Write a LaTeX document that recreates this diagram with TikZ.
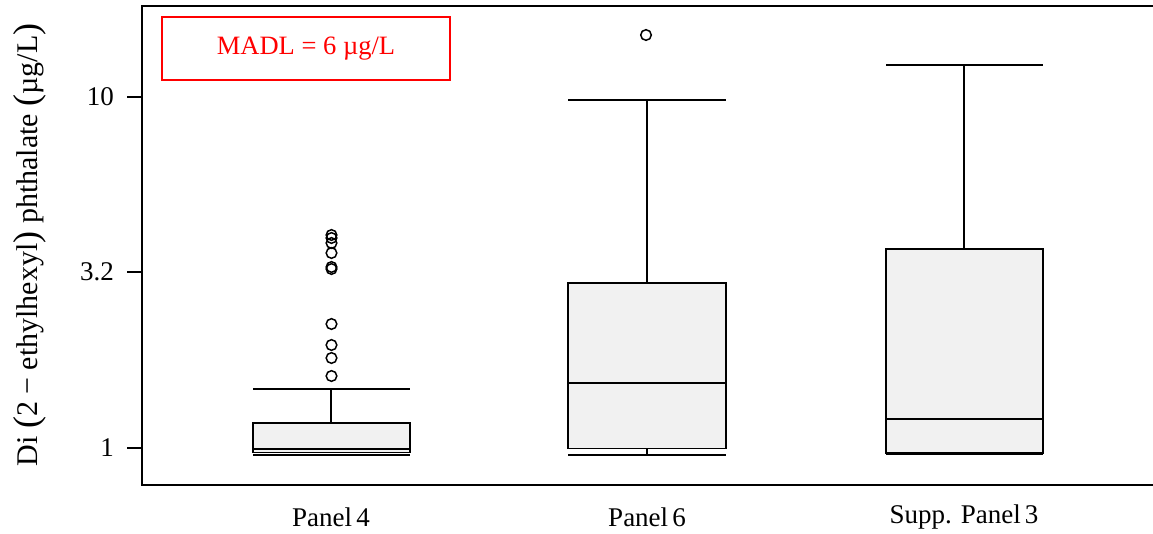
\documentclass[tikz,border=0pt]{standalone}
\usepackage{fontspec}
\setmainfont{Liberation Serif}
\newcommand{\bigpar}[1]{{\fontsize{36}{36}\selectfont\raisebox{-1.5pt}{#1}}}
\newcommand{\nsp}{\spaceskip=0.15em plus 0pt\relax}
\newcommand{\wsp}{\spaceskip=0.25em plus 0pt\relax}
\begin{document}
\begin{tikzpicture}[x=1pt,y=-1pt,
  axisline/.style={line width=1.5pt,black},
  boxst/.style={line width=1.5pt,draw=black,fill=boxgray},
  whisk/.style={line width=1.5pt,black},
  outl/.style={line width=1.5pt,draw=black,fill=none},
  lbl/.style={font=\fontsize{27}{32}\selectfont,inner sep=0pt},
  ylbl/.style={font=\fontsize{30}{36}\selectfont,inner sep=0pt},
  leg/.style={draw=red,line width=1.3pt,text=red,font=\fontsize{26.5}{31}\selectfont,minimum width=288pt,minimum height=63pt,inner sep=0pt}]
\definecolor{boxgray}{RGB}{241,241,241}
\useasboundingbox (0,0) rectangle (1153,533);
% frame
\draw[axisline] (1153,6) -- (142,6) -- (142,485) -- (1153,485);
% ticks
\foreach \yy/\tl/\nm in {97/10/t10, 272/3.2/t32, 448/1/t1}{
  \draw[axisline] (127,\yy) -- (142,\yy);
  \node[lbl,anchor=east] (\nm) at (114,\yy) {\tl};
}
% y label
\node[ylbl,rotate=90] (ylab) at (30,245) {Di \bigpar{(}2 − ethylhexyl\bigpar{)} phthalate \bigpar{(}µg/L\bigpar{)}};
% x labels
\node[lbl] (x1) at (331,517) {\nsp Panel 4};
\node[lbl] (x2) at (647,517) {\nsp Panel 6};
\node[lbl] (x3) at (964,517) {\wsp Supp. {\nsp Panel 3}};
% Panel 4
\draw[whisk] (331,389) -- (331,423);
\draw[whisk] (253,389) -- (410,389);
\draw[boxst] (253,423) rectangle (410,452.5);
\draw[whisk] (253,449) -- (410,449);
\draw[whisk] (253,455) -- (410,455);
\foreach \oy in {235,238,243,253,267,269,324,345,358,376}{
  \draw[outl] (331.5,\oy) circle (5.3pt);
}
% Panel 6
\draw[whisk] (647,100) -- (647,283);
\draw[whisk] (568,100) -- (726,100);
\draw[whisk] (647,448.5) -- (647,455);
\draw[boxst] (568,283) rectangle (726,448.5);
\draw[whisk] (568,383) -- (726,383);
\draw[whisk] (568,455) -- (726,455);
\draw[outl] (646,35) circle (5.3pt);
% Supp. Panel 3
\draw[whisk] (964,65) -- (964,249);
\draw[whisk] (886,65) -- (1043,65);
\draw[boxst] (886,249) rectangle (1043,453);
\draw[whisk] (886,419) -- (1043,419);
\draw[whisk] (886,454.5) -- (1043,454.5);
% legend
\node[leg] (legend) at (306,48.5) {MADL = 6 µg/L};
\end{tikzpicture}
\end{document}
